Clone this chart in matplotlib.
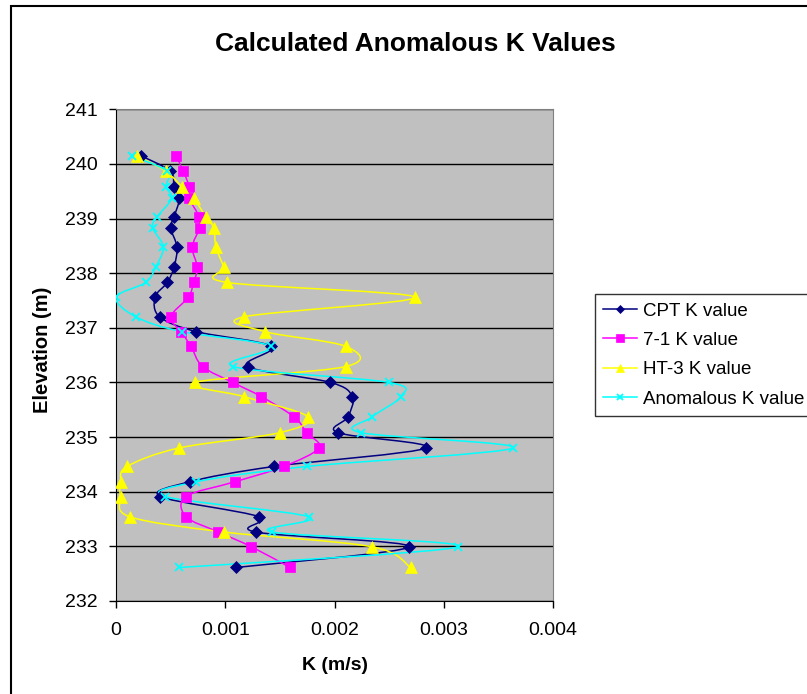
import numpy as np
import matplotlib
matplotlib.use('Agg')
import matplotlib.pyplot as plt
from matplotlib.path import Path
from matplotlib.patches import PathPatch, Rectangle
from matplotlib.lines import Line2D

plt.rcParams['font.family'] = ['Liberation Sans', 'DejaVu Sans']

# elevations (m), shared by all four series
elev = [240.15, 239.87, 239.58, 239.37, 239.03, 238.83, 238.48, 238.11, 237.83, 237.56,
        237.20, 236.93, 236.66, 236.29, 236.00, 235.74, 235.37, 235.08, 234.80, 234.46,
        234.18, 233.91, 233.54, 233.26, 232.99, 232.61]

cpt_k = [0.000229, 0.000497, 0.000531, 0.000580, 0.000531, 0.000500, 0.000558, 0.000531,
         0.000470, 0.000357, 0.000400, 0.000735, 0.001419, 0.001205, 0.001962, 0.002163,
         0.002124, 0.002029, 0.002838, 0.001443, 0.000674, 0.000406, 0.001309, 0.001278,
         0.002685, 0.001098]
k71 = [0.000549, 0.000616, 0.000670, 0.000670, 0.000763, 0.000766, 0.000698, 0.000744,
       0.000711, 0.000662, 0.000500, 0.000595, 0.000686, 0.000793, 0.001068, 0.001330,
       0.001629, 0.001745, 0.001858, 0.001535, 0.001089, 0.000641, 0.000641, 0.000937,
       0.001239, 0.001593]
ht3_k = [0.000189, 0.000455, 0.000604, 0.000711, 0.000824, 0.000894, 0.000915, 0.000986,
         0.001019, 0.002734, 0.001169, 0.001364, 0.002102, 0.002102, 0.000720, 0.001169,
         0.001757, 0.001501, 0.000580, 0.000101, 0.000043, 0.000043, 0.000125, 0.000986,
         0.002340, 0.002697]
anom_k = [0.000143, 0.000467, 0.000458, 0.000510, 0.000375, 0.000336, 0.000433, 0.000363,
          0.000272, 0.000000, 0.000183, 0.000601, 0.001419, 0.001074, 0.002496, 0.002606,
          0.002346, 0.002243, 0.003634, 0.001745, 0.000735, 0.000449, 0.001764, 0.001431,
          0.003133, 0.000580]

names = ['CPT K value', '7-1 K value', 'HT-3 K value', 'Anomalous K value']
xticks = [0, 0.001, 0.002, 0.003, 0.004]
xtick_labels = ['0', '0.001', '0.002', '0.003', '0.004']
yticks = [232, 233, 234, 235, 236, 237, 238, 239, 240, 241]


def smooth_path(xs, ys):
    # Excel style smoothed line: cubic bezier through every point
    pts = np.column_stack([xs, ys])
    n = len(pts)
    verts = [pts[0]]
    codes = [Path.MOVETO]
    for i in range(n - 1):
        p0 = pts[i - 1] if i > 0 else pts[i]
        p3 = pts[i + 2] if i + 2 < n else pts[i + 1]
        c1 = pts[i] + (pts[i + 1] - p0) / 6
        c2 = pts[i + 1] - (p3 - pts[i]) / 6
        verts += [c1, c2, pts[i + 1]]
        codes += [Path.CURVE4] * 3
    return Path(verts, codes)


fig = plt.figure(figsize=(8.07, 6.94), dpi=100)
ax = fig.add_axes([116 / 807, 1 - 600.8 / 694, 437 / 807, 491.4 / 694])
ax.set_facecolor('#C0C0C0')

series = [
    (cpt_k, '#000080', 'D', 6, 'none'),
    (k71, '#FF00FF', 's', 7, 'none'),
    (ht3_k, '#FFFF00', '^', 8, 'none'),
    (anom_k, '#00FFFF', 'x', 6, 'none'),
]
handles = []
for (k, col, mk, ms, _), name in zip(series, names):
    ax.add_patch(PathPatch(smooth_path(k, elev), fill=False, edgecolor=col, lw=1.1, zorder=3))
    mew = 1.3 if mk == 'x' else 0.5
    ax.plot(k, elev, linestyle='none', marker=mk, ms=ms, color=col, mec=col, mew=mew, zorder=4)
    handles.append(Line2D([], [], color=col, lw=1.1, marker=mk, ms=ms * 0.75, mec=col, mew=mew))

ax.set_xlim(0, 0.004)
ax.set_ylim(232, 241)
ax.set_xticks(xticks)
ax.set_xticklabels(xtick_labels)
ax.set_yticks(yticks)
ax.yaxis.grid(True, color='black', lw=1)
ax.set_axisbelow(True)
ax.tick_params(direction='out', length=5, width=1, labelsize=14, pad=8.5)
ax.tick_params(axis='x', pad=10)
for s in ['top', 'right']:
    ax.spines[s].set_color('#808080')
for s in ['left', 'bottom']:
    ax.spines[s].set_color('black')

fig.text(415 / 807, 1 - 44 / 694, 'Calculated Anomalous K Values', ha='center', va='center',
         fontsize=19, fontweight='bold')
fig.text(334.5 / 807, 1 - 665 / 694, 'K (m/s)', ha='center', va='center', fontsize=14,
         fontweight='bold')
fig.text(42 / 807, 1 - 350 / 694, 'Elevation (m)', ha='center', va='center', fontsize=14.5,
         fontweight='bold', rotation=90)

leg = fig.legend(handles, names, loc='upper left', bbox_to_anchor=(595 / 807, 1 - 294 / 694),
                 fontsize=13.5, frameon=True, fancybox=False, edgecolor='black',
                 handlelength=1.8, handletextpad=0.3, labelspacing=0.65, borderpad=0.45,
                 borderaxespad=0)
leg.get_frame().set_linewidth(1)

fig.patches.append(Rectangle((11 / 807, -0.1), 1.2, 1 - 6 / 694 + 0.1, transform=fig.transFigure,
                             fill=False, edgecolor='black', lw=1.5))

fig.savefig('out.png', dpi=100)
